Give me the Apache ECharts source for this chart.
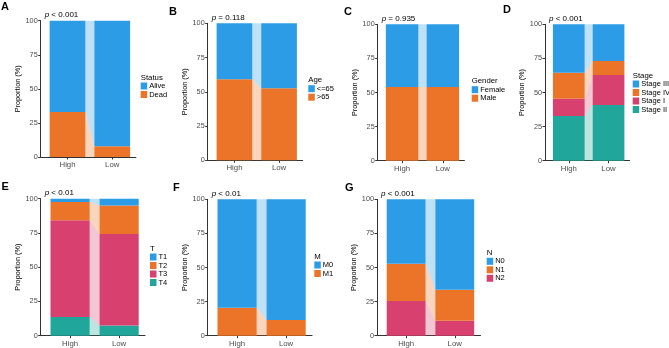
<!DOCTYPE html>
<html>
<head>
<meta charset="utf-8">
<script src="https://cdn.jsdelivr.net/npm/echarts@6/dist/echarts.min.js"></script>
<style>
  html, body { margin: 0; padding: 0; background: #fff; }
  #chart { width: 669px; height: 348px; }
</style>
</head>
<body>
<div id="chart"></div>
<script>
// groups on the x axis
const groups = ['High', 'Low'];

// each panel: levels listed top-to-bottom of the stack (same order as legend)
const statusLevels = ['Alive', 'Dead'];
const statusHigh = [67, 33];
const statusLow = [92.2, 7.8];

const ageLevels = ['<=65', '>65'];
const ageHigh = [40.9, 59.1];
const ageLow = [47.4, 52.6];

const genderLevels = ['Female', 'Male'];
const genderHigh = [46, 54];
const genderLow = [46, 54];

const stageLevels = ['Stage III', 'Stage IV', 'Stage I', 'Stage II'];
const stageHigh = [35.5, 19.0, 12.7, 32.8];
const stageLow = [26.9, 10.3, 22.0, 40.8];

const tLevels = ['T1', 'T2', 'T3', 'T4'];
const tHigh = [2.4, 13.4, 70.6, 13.6];
const tLow = [4.9, 20.8, 66.8, 7.5];

const mLevels = ['M0', 'M1'];
const mHigh = [79.5, 20.5];
const mLow = [88.5, 11.5];

const nLevels = ['N0', 'N1', 'N2'];
const nHigh = [47.2, 27.4, 25.4];
const nLow = [66.3, 22.7, 11.0];

const legendTitles = ['Status', 'Age', 'Gender', 'Stage', 'T', 'M', 'N'];
const pValues = ['< 0.001', '= 0.118', '= 0.935', '< 0.001', '< 0.01', '< 0.01', '< 0.001'];

const palette = ['#2C9CE7', '#EB7428', '#D8416F', '#21A69B'];
const FONT = '"Liberation Sans", Arial, sans-serif';

// layout of each panel (pixels)
const layout = [
  {letter: 'A', left: 40.7, top: 20.7, bottom: 157, unit: 44.7, lx: 140.7, ly: 78, tx: 1, ty: 1},
  {letter: 'B', left: 207.7, top: 23.3, bottom: 160.3, unit: 44.6, lx: 308.3, ly: 80.7, tx: 169, ty: 6},
  {letter: 'C', left: 377.7, top: 24.3, bottom: 160.7, unit: 40.7, lx: 471.7, ly: 81.7, tx: 344, ty: 6},
  {letter: 'D', left: 545, top: 24.3, bottom: 160.7, unit: 39.7, lx: 632.7, ly: 76, tx: 503, ty: 4.5},
  {letter: 'E', left: 40.7, top: 198.7, bottom: 335.7, unit: 49, lx: 150, ly: 249, tx: 1.5, ty: 181},
  {letter: 'F', left: 207.7, top: 199.3, bottom: 335.7, unit: 49, lx: 314.3, ly: 257, tx: 173, ty: 182.5},
  {letter: 'G', left: 377, top: 199.3, bottom: 335.7, unit: 48.6, lx: 486.7, ly: 253.3, tx: 345, ty: 182.5}
];

const panels = [
  {levels: statusLevels, high: statusHigh, low: statusLow},
  {levels: ageLevels, high: ageHigh, low: ageLow},
  {levels: genderLevels, high: genderHigh, low: genderLow},
  {levels: stageLevels, high: stageHigh, low: stageLow},
  {levels: tLevels, high: tHigh, low: tLow},
  {levels: mLevels, high: mHigh, low: mLow},
  {levels: nLevels, high: nHigh, low: nLow}
];

const XMIN = 0.4, XMAX = 2.53, HALF = 0.4;

function renderAlluvium(params, api) {
  const sH = api.value(0), eH = api.value(1), sL = api.value(2), eL = api.value(3);
  const color = api.visual('color');
  const a = api.coord([1 - HALF, eH]), b = api.coord([1 + HALF, sH]);
  const c = api.coord([2 - HALF, eL]), d = api.coord([2 + HALF, sL]);
  return {
    type: 'group',
    children: [
      {type: 'rect', shape: {x: a[0], y: a[1], width: b[0] - a[0], height: b[1] - a[1]}, style: {fill: color}},
      {type: 'polygon', shape: {points: [[b[0], b[1]], [b[0], a[1]], [c[0], c[1]], [c[0], d[1]]]},
        style: {fill: color, opacity: 0.3}},
      {type: 'rect', shape: {x: c[0], y: c[1], width: d[0] - c[0], height: d[1] - c[1]}, style: {fill: color}}
    ]
  };
}

const grids = [], xAxes = [], yAxes = [], series = [], legends = [], graphics = [];

panels.forEach((p, i) => {
  const L = layout[i];
  grids.push({left: L.left, top: L.top, width: (XMAX - XMIN) * L.unit, height: L.bottom - L.top});
  xAxes.push({
    gridIndex: i, type: 'value', min: XMIN, max: XMAX,
    axisLine: {show: true, onZero: false, lineStyle: {color: '#333', width: 1}},
    axisTick: {show: true, length: 2.5, customValues: [1, 2], lineStyle: {color: '#333'}},
    axisLabel: {customValues: [1, 2], formatter: v => groups[Math.round(v) - 1], margin: 4,
      fontSize: 7.8, color: '#4D4D4D', fontFamily: FONT},
    splitLine: {show: false}
  });
  yAxes.push({
    gridIndex: i, type: 'value', min: 0, max: 100, interval: 25,
    name: 'Proportion (%)', nameLocation: 'middle', nameGap: 18,
    nameTextStyle: {fontSize: 7.3, color: '#000', fontFamily: FONT},
    axisLine: {show: true, lineStyle: {color: '#333', width: 1}},
    axisTick: {show: true, length: 2.5, lineStyle: {color: '#333'}},
    axisLabel: {margin: 3, fontSize: 7.3, color: '#4D4D4D', fontFamily: FONT},
    splitLine: {show: false}
  });

  // cumulative stacking from the bottom level upward
  const n = p.levels.length;
  let accH = 0, accL = 0;
  for (let k = n - 1; k >= 0; k--) {
    const sH = accH, sL = accL;
    accH += p.high[k];
    accL += p.low[k];
    series.push({
      type: 'custom', name: p.levels[k], xAxisIndex: i, yAxisIndex: i,
      itemStyle: {color: palette[k]},
      renderItem: renderAlluvium,
      encode: {x: -1, y: [0, 1, 2, 3]},
      data: [[sH, Math.min(accH, 100), sL, Math.min(accL, 100)]],
      silent: true
    });
  }

  legends.push({
    data: p.levels.map(name => ({name: name, icon: 'rect'})),
    orient: 'vertical', left: L.lx, top: L.ly + 4, padding: 0,
    itemWidth: 6.5, itemHeight: 7, itemGap: 0.5,
    selectedMode: false,
    textStyle: {fontSize: 7.5, color: '#000', fontFamily: FONT, padding: [0, 0, 0, -3], lineHeight: 7.5}
  });

  graphics.push({
    type: 'text', left: L.lx, top: L.ly - 4.5,
    style: {text: legendTitles[i], fontSize: 7.8, fill: '#000', fontFamily: FONT}
  });
  graphics.push({
    type: 'text', left: L.tx, top: L.ty,
    style: {text: L.letter, fontSize: 11, fontWeight: 'bold', fill: '#000', fontFamily: FONT}
  });
  graphics.push({
    type: 'text', left: L.left + 4, top: L.top - 9.5,
    style: {
      text: '{i|p} ' + pValues[i], fontSize: 8, fill: '#000', fontFamily: FONT,
      rich: {i: {fontStyle: 'italic', fontSize: 8, fontFamily: FONT}}
    }
  });
});

const chart = echarts.init(document.getElementById('chart'), null, {renderer: 'canvas'});
chart.setOption({
  animation: false,
  backgroundColor: '#fff',
  grid: grids,
  xAxis: xAxes,
  yAxis: yAxes,
  legend: legends,
  series: series,
  graphic: graphics
});
</script>
</body>
</html>
